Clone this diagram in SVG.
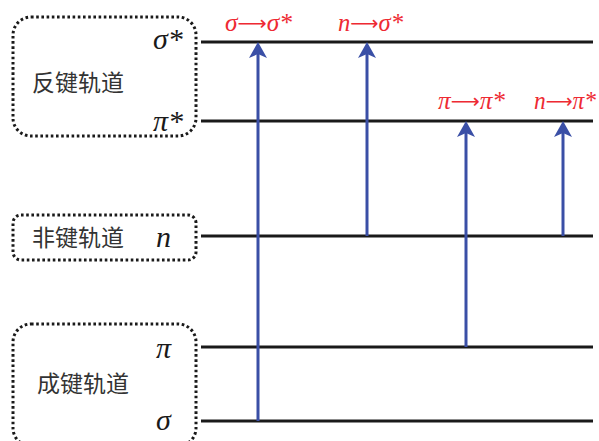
<svg xmlns="http://www.w3.org/2000/svg" width="599" height="441" viewBox="0 0 599 441">
<defs>
<style>
.box{fill:none;stroke:#1a1a1a;stroke-width:3;stroke-dasharray:2.6 2.6}
.lvl{stroke:#1a1a1a;stroke-width:3}
.cn{font-family:"Noto Sans CJK SC","Noto Sans CJK JP",sans-serif;font-size:23px;fill:#333}
.gk{font-family:"Liberation Serif","DejaVu Serif",serif;font-style:italic;font-size:30px;fill:#1a1a1a}
.tr{font-family:"Liberation Serif","DejaVu Serif",serif;font-style:italic;font-size:25px;fill:#ee2a33}
.ar{font-family:"DejaVu Sans",sans-serif;font-style:normal;font-size:20px}
.arr{stroke:#3a4fa6;stroke-width:3;fill:none}
.head{fill:#3a4fa6}
</style>
</defs>
<rect width="599" height="441" fill="#fff"/>
<g id="antibonding">
<rect class="box" x="13" y="17" width="183" height="119" rx="18"/>
<text class="cn" x="32" y="91">反键轨道</text>
<text class="gk" x="153" y="49">σ*</text>
<text class="gk" x="153" y="131">π*</text>
</g>
<g id="nonbonding">
<rect class="box" x="13" y="215" width="183" height="45" rx="8"/>
<text class="cn" x="32" y="246">非键轨道</text>
<text class="gk" x="156" y="247">n</text>
</g>
<g id="bonding">
<rect class="box" x="13" y="324" width="183" height="122" rx="18"/>
<text class="cn" x="37" y="392">成键轨道</text>
<text class="gk" x="156" y="358">π</text>
<text class="gk" x="156" y="430">σ</text>
</g>
<g id="levels">
<line class="lvl" x1="201" y1="42" x2="593" y2="42"/>
<line class="lvl" x1="201" y1="121" x2="593" y2="121"/>
<line class="lvl" x1="201" y1="236" x2="593" y2="236"/>
<line class="lvl" x1="201" y1="347" x2="593" y2="347"/>
<line class="lvl" x1="201" y1="421" x2="593" y2="421"/>
</g>
<g id="connectors">
<line class="arr" x1="258" y1="421" x2="258" y2="52"/>
<path class="head" d="M258 42 L267 58 L258 54 L249 58 Z"/>
<line class="arr" x1="367" y1="236" x2="367" y2="52"/>
<path class="head" d="M367 42 L376 58 L367 54 L358 58 Z"/>
<line class="arr" x1="466" y1="347" x2="466" y2="131"/>
<path class="head" d="M466 121 L475 137 L466 133 L457 137 Z"/>
<line class="arr" x1="563" y1="236" x2="563" y2="131"/>
<path class="head" d="M563 121 L572 137 L563 133 L554 137 Z"/>
</g>
<g id="labels">
<text class="tr" x="225" y="31" textLength="67" lengthAdjust="spacingAndGlyphs">σ<tspan class="ar" dy="-1">⟶</tspan><tspan dy="1">σ*</tspan></text>
<text class="tr" x="338" y="31" textLength="65" lengthAdjust="spacingAndGlyphs">n<tspan class="ar" dy="-1">⟶</tspan><tspan dy="1">σ*</tspan></text>
<text class="tr" x="438" y="109" textLength="67" lengthAdjust="spacingAndGlyphs">π<tspan class="ar" dy="-1">⟶</tspan><tspan dy="1">π*</tspan></text>
<text class="tr" x="534" y="109" textLength="62" lengthAdjust="spacingAndGlyphs">n<tspan class="ar" dy="-1">⟶</tspan><tspan dy="1">π*</tspan></text>
</g>
</svg>
